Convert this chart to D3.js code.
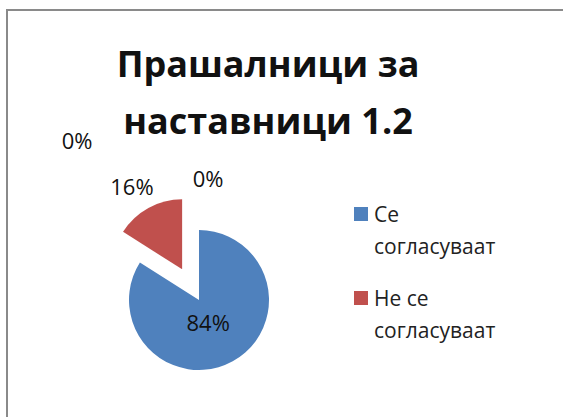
<!DOCTYPE html>
<html>
<head>
    <meta charset="utf-8">
    <title>Прашалници за наставници 1.2</title>
    <script src="https://d3js.org/d3.v7.min.js"></script>
    <style>
        body { margin: 0; background: #fff; }
        text { font-family: "Open Sans", sans-serif; fill: #111; }
        .title { font-weight: bold; font-size: 36px; }
        .pct { font-size: 22px; }
        .legend-label { font-size: 21px; fill: #222; }
    </style>
</head>
<body>
    <svg width="563" height="417"></svg>

    <script>
        // data
        const categories = ["Се согласуваат", "Не се согласуваат", "", ""];
        const values = [84, 16, 0, 0];
        const colors = ["#4f81bd", "#c0504d", "#9bbb59", "#8064a2"];
        const legendLines = [["Се", "согласуваат"], ["Не се", "согласуваат"]];
        const titleLines = ["Прашалници за", "наставници 1.2"];

        const svg = d3.select("svg");

        // chart frame (runs past the right and bottom edges)
        svg.append("rect")
            .attr("x", 7).attr("y", 10)
            .attr("width", 600).attr("height", 450)
            .attr("fill", "none")
            .attr("stroke", "#8a8a8a")
            .attr("stroke-width", 2);

        // title
        svg.append("g").selectAll("text")
            .data(titleLines)
            .enter().append("text")
            .attr("class", "title")
            .attr("x", 268)
            .attr("y", (d, i) => 77 + i * 57)
            .attr("text-anchor", "middle")
            .text(d => d);

        // pie
        const cx = 199, cy = 300, radius = 70;
        const explode = [0, 35, 0, 0];
        const total = d3.sum(values);

        const pie = d3.pie().sort(null).value(d => d);
        const arcs = pie(values);
        const arc = d3.arc().innerRadius(0).outerRadius(radius);
        const innerLabelArc = d3.arc().innerRadius(0).outerRadius(radius * 0.72);
        const outerLabelArc = d3.arc().innerRadius(radius + 28).outerRadius(radius + 28);

        const shift = (d, i) => {
            const mid = (d.startAngle + d.endAngle) / 2;
            return [Math.sin(mid) * explode[i], -Math.cos(mid) * explode[i]];
        };

        const pieG = svg.append("g").attr("transform", `translate(${cx},${cy})`);

        pieG.selectAll("path")
            .data(arcs)
            .enter().append("path")
            .attr("d", arc)
            .attr("fill", (d, i) => colors[i])
            .attr("transform", (d, i) => `translate(${shift(d, i)})`);

        // percentage labels: big slices inside, small ones outside;
        // zero slices get nudged apart like the original
        const zeroNudge = [[-3, 0], [-3, 3], [9, -24], [-122, -62]];
        pieG.selectAll("text")
            .data(arcs)
            .enter().append("text")
            .attr("class", "pct")
            .attr("text-anchor", "middle")
            .attr("dominant-baseline", "central")
            .attr("transform", (d, i) => {
                const s = shift(d, i);
                const c = (d.value / total > 0.5 ? innerLabelArc : outerLabelArc).centroid(d);
                const n = zeroNudge[i];
                return `translate(${c[0] + s[0] + n[0]},${c[1] + s[1] + n[1]})`;
            })
            .text(d => Math.round(d.value / total * 100) + "%");

        // legend
        const legend = svg.append("g").attr("transform", "translate(354,207)");
        const item = legend.selectAll("g")
            .data(legendLines)
            .enter().append("g")
            .attr("transform", (d, i) => `translate(0,${i * 84})`);

        item.append("rect")
            .attr("width", 14).attr("height", 14)
            .attr("fill", (d, i) => colors[i]);

        item.append("text")
            .attr("class", "legend-label")
            .selectAll("tspan")
            .data(d => d)
            .enter().append("tspan")
            .attr("x", 20)
            .attr("y", (d, i) => 15 + i * 32)
            .text(d => d);
    </script>
</body>
</html>
